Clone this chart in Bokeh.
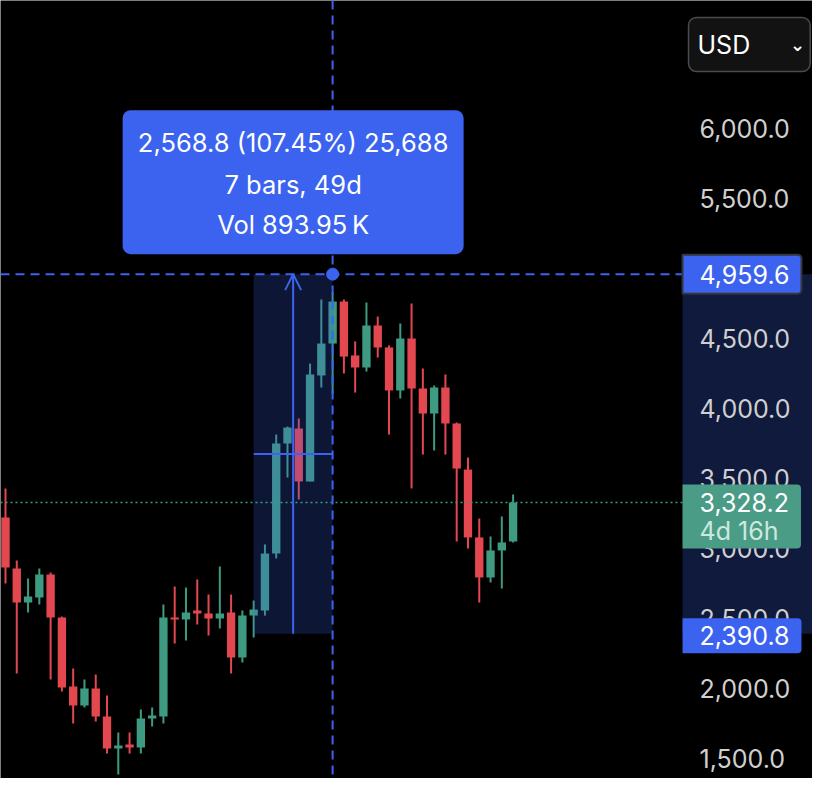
from bokeh.plotting import figure
from bokeh.models import (Range1d, Span, BoxAnnotation, Label, Arrow, OpenHead,
                          ColumnDataSource)
from bokeh.core.properties import value
from bokeh.embed import file_html
from bokeh.resources import INLINE

# ---------------- data ----------------
opens  = [3221, 2857, 2614, 2650, 2814, 2507, 2014, 1879, 2000, 1800,
          1571, 1600, 1579, 1786, 1800, 2507, 2493, 2557, 2536, 2500,
          2543, 2221, 2521, 2557, 2964, 3750, 3857, 3479, 4236, 4464,
          4764, 4379, 4293, 4593, 4436, 4129, 4500, 4143, 3964, 4150,
          3893, 3564, 3079, 2793, 2986, 3050]
highs  = [3429, 2914, 2786, 2857, 2829, 2514, 2143, 2064, 2100, 1950,
          1686, 1686, 1850, 1864, 2600, 2729, 2721, 2779, 2671, 2871,
          2671, 2557, 2629, 3029, 3814, 3871, 3929, 4321, 4779, 4829,
          4779, 4479, 4757, 4657, 4450, 4607, 4750, 4286, 4164, 4243,
          3900, 3650, 3214, 3086, 3229, 3386]
lows   = [2750, 2107, 2543, 2600, 2064, 1979, 1750, 1864, 1764, 1536,
          1386, 1536, 1536, 1729, 1750, 2321, 2343, 2457, 2379, 2429,
          2107, 2186, 2364, 2521, 2929, 3507, 3350, 3479, 4150, 4107,
          4250, 4114, 4264, 4364, 3814, 4071, 3429, 3671, 3700, 3671,
          3050, 3000, 2614, 2757, 2714, 3043]
closes = [2864, 2614, 2657, 2814, 2507, 2007, 1879, 2000, 1800, 1571,
          1593, 1579, 1786, 1807, 2507, 2493, 2543, 2536, 2500, 2536,
          2221, 2521, 2564, 2964, 3750, 3864, 3479, 4243, 4464, 4764,
          4371, 4293, 4593, 4436, 4129, 4500, 4143, 3964, 4150, 3893,
          3571, 3079, 2793, 2986, 3043, 3328.2]

tick_values = [1500, 2000, 2500, 3000, 3500, 4000, 4500, 5000, 5500, 6000]
tick_labels = [f"{v:,.1f}" for v in tick_values]

measure_start_bar = 22          # first bar of the measured range (0-based)
measure_end_bar = 29            # last bar / crosshair bar
measure_low = 2390.8
measure_high = 4959.6
last_price = 3328.2
countdown = "4d 16h"
tooltip_lines = ["2,568.8 (107.45%) 25,688", "7 bars, 49d", "Vol 893.95\u2009K"]
currency = "USD"

# ---------------- styling ----------------
GREEN = "#3e9a81"
RED = "#e3474f"
BLUE = "#3b63ef"
NAVY = "#0f1a3c"
AXIS_TXT = "#d0d0d0"
FONT = "Inter"

W, H = 812, 778
X_START, X_END = -0.443, 71.543      # bar index range across the whole canvas
Y_START, Y_END = 1357.14, 6914.29
XPX = (X_END - X_START) / W          # bar units per pixel
PX = (Y_END - Y_START) / H           # price units per pixel
SCALE_X = 60.02                      # left edge of the price-scale strip (bar units)

p = figure(width=W, height=H, output_backend="svg", toolbar_location=None,
           x_range=Range1d(X_START, X_END), y_range=Range1d(Y_START, Y_END),
           x_axis_location=None, y_axis_location=None,
           background_fill_color="black", border_fill_color="black",
           outline_line_color=None, min_border=0)
p.grid.visible = False

# ---------------- candles ----------------
idx = list(range(len(opens)))
colors = [GREEN if c >= o else RED for o, c in zip(opens, closes)]
src = ColumnDataSource(dict(x=idx, o=opens, h=highs, l=lows, c=closes,
                            top=[max(o, c) for o, c in zip(opens, closes)],
                            bot=[min(o, c) for o, c in zip(opens, closes)],
                            color=colors))
p.segment(x0="x", y0="h", x1="x", y1="l", color="color", line_width=2, source=src)
p.vbar(x="x", width=0.74, top="top", bottom="bot", fill_color="color",
       line_color=None, source=src)

# measured range tint (chart area) and its price-scale highlight
p.quad(left=[measure_start_bar], right=[measure_end_bar], bottom=[measure_low],
       top=[measure_high], fill_color=BLUE, fill_alpha=0.22, line_color=None)
p.quad(left=[SCALE_X], right=[X_END], bottom=[measure_low], top=[measure_high],
       fill_color=NAVY, line_color=None)

# price scale labels
p.text(x=[SCALE_X + 17 * XPX] * len(tick_values), y=tick_values, text=tick_labels,
       text_align="left", text_baseline="middle", text_font=value(FONT),
       text_font_size="25px", text_color=AXIS_TXT)

mid_x = (measure_start_bar + measure_end_bar) / 2
mid_y = (measure_low + measure_high) / 2
p.segment(x0=[measure_start_bar], x1=[measure_end_bar], y0=[mid_y], y1=[mid_y],
          line_color=BLUE, line_width=2)
p.add_layout(Arrow(end=OpenHead(size=16, line_color=BLUE, line_width=2),
                   x_start=mid_x, y_start=measure_low, x_end=mid_x, y_end=measure_high,
                   line_color=BLUE, line_width=2))

# current price dotted line
p.segment(x0=[X_START], x1=[SCALE_X], y0=[last_price], y1=[last_price],
          line_color=GREEN, line_dash="2 3", line_width=1.5)
# crosshair
p.segment(x0=[X_START], x1=[SCALE_X], y0=[measure_high], y1=[measure_high],
          line_color=BLUE, line_dash="9 6", line_width=2)
p.add_layout(Span(location=measure_end_bar, dimension="height", line_color=BLUE,
                  line_dash="9 6", line_width=2))
p.scatter(x=[measure_end_bar], y=[measure_high], size=12, color=BLUE)

# tooltip box
p.add_layout(BoxAnnotation(left=mid_x - 170.5 * XPX, right=mid_x + 170.5 * XPX,
                           bottom=measure_high + 20 * PX, top=measure_high + 164 * PX,
                           fill_color=BLUE, fill_alpha=1, line_color=None,
                           border_radius=8))
for txt, off in zip(tooltip_lines, [132, 90, 50]):
    p.add_layout(Label(x=mid_x, y=measure_high, y_offset=off, text=txt,
                       text_align="center", text_baseline="middle",
                       text_font=FONT, text_font_size="25.5px", text_color="white"))

# price tags on the scale (the padded box is anchored at the scale's left edge)
def tag(price, color, text, pad_top, pad_bottom, y_off=0, border=None):
    p.add_layout(Label(x=SCALE_X, y=price, y_offset=y_off, text=text,
                       text_align="left", text_baseline="middle",
                       text_font=FONT, text_font_size="25px", text_color="white",
                       background_fill_color=color, background_fill_alpha=1,
                       border_line_color=border, border_line_width=2,
                       padding=dict(left=17, right=12, top=pad_top, bottom=pad_bottom),
                       border_radius=dict(top_left=0, top_right=4,
                                          bottom_right=4, bottom_left=0)))

tag(measure_high, BLUE, f"{measure_high:,.1f}", 10, 10, border="#34363c")
tag(measure_low, BLUE, f"{measure_low:,.1f}", 8, 8, y_off=-2)
tag(last_price, "#4a9c86", f"{last_price:,.1f}", 8, 37, y_off=-14)
p.add_layout(Label(x=SCALE_X, y=last_price, x_offset=17, y_offset=-28, text=countdown,
                   text_align="left", text_baseline="middle", text_font=FONT,
                   text_font_size="25px", text_color="#cde9df"))

# currency selector
p.add_layout(Label(x=SCALE_X, y=Y_END, x_offset=6, y_offset=-44, text=currency,
                   text_align="left", text_baseline="middle", text_font=FONT,
                   text_font_size="25px", text_color="white",
                   background_fill_color="#121212", background_fill_alpha=1,
                   border_line_color="#4b4b4b", border_line_width=1.5,
                   padding=dict(left=9, right=60, top=12, bottom=12), border_radius=8))
p.add_layout(Label(x=SCALE_X, y=Y_END, x_offset=115, y_offset=-44, text="\u2304",
                   text_align="center", text_baseline="middle",
                   text_font="DejaVu Sans", text_font_style="bold",
                   text_font_size="18px", text_color="white"))

open("out.html", "w").write(file_html(p, INLINE))
